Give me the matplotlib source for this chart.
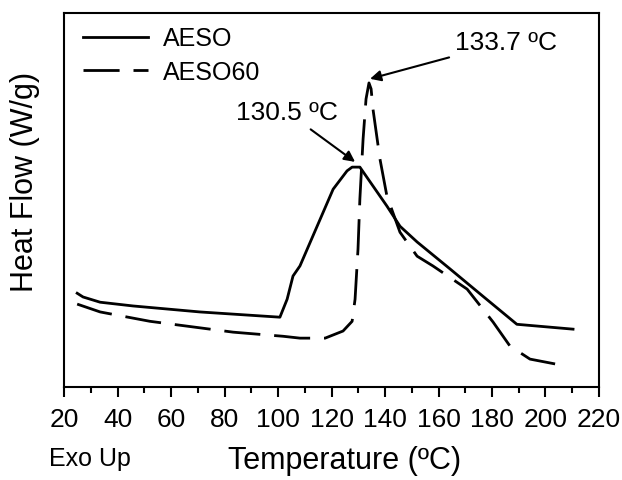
import matplotlib.pyplot as plt
from matplotlib.ticker import MultipleLocator

plt.rcParams['font.family'] = ['Liberation Sans', 'DejaVu Sans']

# AESO (solid) - arbitrary heat flow units
temp_aeso = [24.9, 27.1, 33.5, 45.8, 70.8, 100.7, 103.4, 105.6, 108.2, 120.6,
             125.8, 127.7, 130.6, 140.7, 145.6, 152.0, 164.3, 176.6, 189.3, 210.3]
flow_aeso = [2.51, 2.41, 2.27, 2.17, 2.01, 1.87, 2.35, 2.97, 3.24, 5.29,
             5.78, 5.88, 5.88, 4.84, 4.30, 3.88, 3.16, 2.43, 1.68, 1.55]

# AESO60 (dashed)
temp_aeso60 = [24.9, 33.5, 52.1, 83.2, 101.9, 108.2, 117.6, 124.3, 127.7, 128.8,
               129.9, 130.6, 131.8, 132.9, 134.0, 134.8, 135.5, 138.1, 140.7,
               145.6, 152.0, 157.9, 170.7, 180.4, 186.7, 194.2, 208.0]
flow_aeso60 = [2.22, 2.01, 1.76, 1.47, 1.36, 1.31, 1.31, 1.50, 1.76, 2.35,
               3.69, 5.03, 6.63, 7.70, 8.13, 7.97, 7.43, 6.10, 5.11,
               4.14, 3.50, 3.24, 2.62, 1.74, 1.10, 0.75, 0.56]

fig = plt.figure(figsize=(6.22, 4.81), dpi=100)
ax = fig.add_axes([0.103, 0.193, 0.860, 0.778])

ax.plot(temp_aeso, flow_aeso, color='black', lw=2, label='AESO')
ax.plot(temp_aeso60, flow_aeso60, color='black', lw=2, dashes=(13, 5), label='AESO60')

ax.set_xlim(20, 220)
ax.set_ylim(0, 10)
ax.xaxis.set_major_locator(MultipleLocator(20))
ax.xaxis.set_minor_locator(MultipleLocator(10))
ax.tick_params(axis='x', which='major', direction='out', length=7, width=1.5,
               labelsize=19, pad=7)
ax.tick_params(axis='x', which='minor', direction='out', length=4, width=1.5)
ax.set_yticks([])
for s in ax.spines.values():
    s.set_linewidth(1.5)

ax.set_ylabel('Heat Flow (W/g)', fontsize=22)
ax.yaxis.set_label_coords(-0.045, 0.55)
ax.set_xlabel('Temperature (ºC)', fontsize=22)
ax.xaxis.set_label_coords(0.525, -0.155)
fig.text(0.079, 0.046, 'Exo Up', fontsize=18, ha='left', va='center')

ax.annotate('133.7 ºC', xy=(134.4, 8.24), xytext=(166, 9.22), fontsize=19,
            va='center', ha='left',
            arrowprops=dict(arrowstyle='-|>', color='black', lw=1.5,
                            mutation_scale=16, shrinkA=2, shrinkB=0))
ax.annotate('130.5 ºC', xy=(128.8, 6.02), xytext=(103.4, 7.35), fontsize=19,
            va='center', ha='center',
            arrowprops=dict(arrowstyle='-|>', color='black', lw=1.5,
                            mutation_scale=16, shrinkA=3, shrinkB=0))

ax.legend(loc='upper left', bbox_to_anchor=(0.035, 0.964), frameon=False,
          fontsize=18, handlelength=2.6, handletextpad=0.6,
          borderaxespad=0, borderpad=0, labelspacing=0.38)

fig.savefig('out.png', dpi=100)
